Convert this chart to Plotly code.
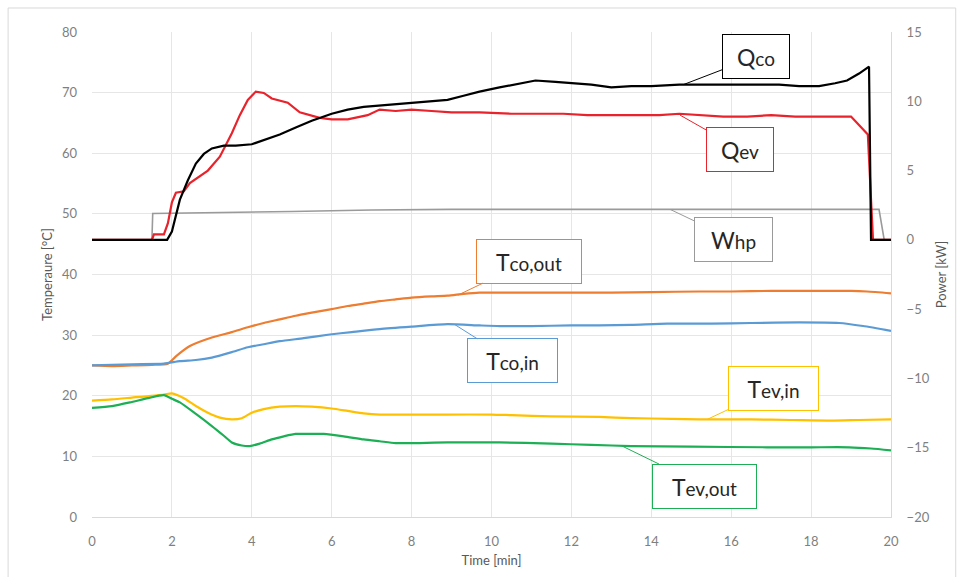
import plotly.graph_objects as go

# ---- measured series -------------------------------------------------------
# Condenser heat output Q_co [kW]
t_qco = [0, 1.88, 2.0, 2.2, 2.4, 2.6, 2.8, 3.0, 3.3, 3.6, 4.0, 4.3, 4.7, 5.1, 5.5,
         6.0, 6.4, 6.8, 7.2, 7.6, 8.0, 8.4, 8.9, 9.3, 9.7, 10.2, 10.7, 11.1, 11.6,
         12.0, 12.5, 13.0, 13.5, 14.0, 14.7, 15.2, 15.8, 16.4, 16.8, 17.2, 17.7,
         18.2, 18.6, 18.9, 19.2, 19.45, 19.5, 20]
q_co = [0, 0, 0.6, 2.9, 4.3, 5.5, 6.2, 6.6, 6.8, 6.8, 6.9, 7.2, 7.6, 8.1, 8.6,
        9.1, 9.4, 9.6, 9.7, 9.8, 9.9, 10.0, 10.1, 10.4, 10.7, 11.0, 11.3, 11.5, 11.4,
        11.3, 11.2, 11.0, 11.1, 11.1, 11.2, 11.2, 11.2, 11.2, 11.2, 11.2, 11.1,
        11.1, 11.3, 11.5, 12.0, 12.5, 0, 0]

# Evaporator heat input Q_ev [kW]
t_qev = [0, 1.5, 1.55, 1.8, 1.9, 2.0, 2.1, 2.3, 2.45, 2.7, 2.9, 3.2, 3.5, 3.7,
         3.9, 4.1, 4.3, 4.5, 4.9, 5.2, 5.7, 6.0, 6.4, 6.9, 7.2, 7.6, 8.0, 8.5,
         9.0, 9.7, 10.5, 11.2, 11.8, 12.4, 13.0, 13.6, 14.2, 14.7, 15.3, 15.8,
         16.4, 17.0, 17.6, 18.2, 18.7, 19.0, 19.42, 19.55, 20]
q_ev = [0, 0, 0.4, 0.4, 1.2, 2.7, 3.4, 3.5, 4.1, 4.6, 5.0, 6.0, 7.7, 9.0,
        10.1, 10.7, 10.6, 10.2, 9.9, 9.2, 8.8, 8.7, 8.7, 9.0, 9.4, 9.3, 9.4, 9.3,
        9.2, 9.2, 9.1, 9.1, 9.1, 9.0, 9.0, 9.0, 9.0, 9.1, 9.0, 8.9,
        8.9, 9.0, 8.9, 8.9, 8.9, 8.9, 7.6, 0, 0]

# Compressor electric power W_hp [kW]
t_whp = [0, 1.5, 1.52, 3, 5, 7, 9, 12, 15, 18, 19.7, 19.83, 20]
w_hp = [0, 0, 1.9, 1.95, 2.05, 2.15, 2.2, 2.2, 2.2, 2.25, 2.2, 0, 0]

# Condenser outlet temperature [°C]
t_tco_out = [0, 0.5, 1.0, 1.5, 1.9, 2.1, 2.45, 3.0, 3.5, 3.9, 4.3, 4.7, 5.1, 5.5,
             6.0, 6.4, 6.8, 7.2, 7.6, 8.0, 8.5, 8.9, 9.3, 9.7, 10.2, 11, 12, 13,
             14, 15.2, 16, 17, 18, 19, 19.4, 20]
tco_out = [25.0, 24.9, 25.0, 25.1, 25.3, 26.5, 28.2, 29.6, 30.5, 31.3, 32.0, 32.6,
           33.2, 33.7, 34.3, 34.8, 35.2, 35.6, 35.9, 36.2, 36.4, 36.5, 36.8, 37.0,
           37.0, 37.0, 37.0, 37.0, 37.1, 37.2, 37.2, 37.3, 37.3, 37.3, 37.2, 36.9]

# Condenser inlet temperature [°C]
t_tco_in = [0, 1.0, 1.8, 2.2, 2.6, 3.0, 3.5, 3.9, 4.3, 4.7, 5.3, 5.95, 6.5, 7.2,
            8.0, 8.9, 9.7, 10.2, 11, 12, 12.7, 13.5, 14.4, 15.5, 16.5, 17.7,
            18.7, 19.3, 20]
tco_in = [25.0, 25.2, 25.3, 25.7, 25.9, 26.3, 27.2, 28.0, 28.5, 29.0, 29.5, 30.1,
          30.5, 31.0, 31.4, 31.8, 31.6, 31.5, 31.5, 31.6, 31.6, 31.7, 31.9, 31.9,
          32.0, 32.1, 32.0, 31.5, 30.7]

# Evaporator inlet temperature [°C]
t_tev_in = [0, 0.5, 1.0, 1.8, 2.0, 2.3, 2.6, 2.9, 3.2, 3.5, 3.75, 4.0, 4.3, 4.7,
            5.1, 5.5, 6.0, 6.4, 6.8, 7.2, 8.0, 8.9, 10.0, 10.5, 11.5, 12.7, 13.5,
            14.5, 15.2, 16.5, 17.5, 18.5, 19.2, 20]
tev_in = [19.2, 19.4, 19.7, 20.2, 20.4, 19.6, 18.3, 17.2, 16.4, 16.1, 16.3, 17.2,
          17.8, 18.2, 18.3, 18.2, 17.9, 17.5, 17.1, 16.9, 16.9, 16.9, 16.9, 16.8,
          16.6, 16.5, 16.3, 16.2, 16.1, 16.1, 16.0, 15.9, 16.0, 16.1]

# Evaporator outlet temperature [°C]
t_tev_out = [0, 0.5, 0.95, 1.4, 1.8, 2.0, 2.2, 2.6, 3.0, 3.3, 3.5, 3.75, 3.95,
             4.2, 4.5, 4.8, 5.1, 5.5, 5.8, 6.3, 6.8, 7.2, 7.6, 8.2, 8.9, 10.2,
             11.5, 12.5, 13.5, 15.0, 16.9, 18.0, 18.95, 19.5, 20]
tev_out = [18.0, 18.3, 18.9, 19.6, 20.1, 19.5, 18.9, 17.0, 15.0, 13.4, 12.3, 11.8,
           11.7, 12.1, 12.8, 13.3, 13.7, 13.7, 13.7, 13.3, 12.8, 12.5, 12.2, 12.2,
           12.3, 12.3, 12.1, 11.9, 11.7, 11.6, 11.5, 11.5, 11.5, 11.3, 11.0]

x_ticks = [0, 2, 4, 6, 8, 10, 12, 14, 16, 18, 20]
temp_ticks = [0, 10, 20, 30, 40, 50, 60, 70, 80]
power_ticks = [-20, -15, -10, -5, 0, 5, 10, 15]

C_QCO, C_QEV, C_WHP = "#000000", "#E8232B", "#9A9A9A"
C_TCO_OUT, C_TCO_IN = "#ED7D31", "#5B9BD5"
C_TEV_IN, C_TEV_OUT = "#FFC000", "#1DAF55"

FONT = "Lato"

fig = go.Figure()

# temperatures on the left axis (smoothed lines)
for tx, ty, col in [(t_tco_out, tco_out, C_TCO_OUT), (t_tco_in, tco_in, C_TCO_IN),
                    (t_tev_in, tev_in, C_TEV_IN), (t_tev_out, tev_out, C_TEV_OUT)]:
    fig.add_trace(go.Scatter(x=tx, y=ty, mode="lines", yaxis="y",
                             line=dict(color=col, width=2.2, shape="spline",
                                       smoothing=0.6),
                             showlegend=False))

# powers on the right axis
for tx, ty, col, w in [(t_whp, w_hp, C_WHP, 1.6), (t_qev, q_ev, C_QEV, 2.2),
                       (t_qco, q_co, C_QCO, 2.2)]:
    fig.add_trace(go.Scatter(x=tx, y=ty, mode="lines", yaxis="y2",
                             line=dict(color=col, width=w), showlegend=False))


def callout(text, x, y, yref, ax, ay, col, w):
    head, tail = text[0], text[1:]
    return dict(
        x=x, y=y, xref="x", yref=yref, ax=ax, ay=ay,
        text=f"{head}<span style='font-size:19px'>{tail}</span>",
        showarrow=True, arrowhead=0, arrowwidth=1, arrowcolor=col, standoff=0,
        bordercolor=col, borderwidth=1, borderpad=0, bgcolor="white",
        width=w - 2, height=43, align="center", valign="middle",
        font=dict(family=FONT, size=23, color="#262626"),
    )


annotations = [
    callout("Qco", 14.8, 11.2, "y2", 73, -28, C_QCO, 68),
    callout("Qev", 14.72, 9.0, "y2", 60, 34, C_QEV, 68),
    callout("Whp", 14.47, 2.2, "y2", 63, 30, C_WHP, 79),
    callout("Tco,out", 9.16, 36.6, "y", 71, -34, C_TCO_OUT, 106),
    callout("Tco,in", 9.09, 31.7, "y", 57, 36, C_TCO_IN, 91),
    callout("Tev,in", 15.4, 16.1, "y", 66, -31, C_TEV_IN, 91),
    callout("Tev,out", 13.27, 11.7, "y", 82, 40, C_TEV_OUT, 105),
]

fig.update_layout(
    width=963, height=577,
    margin=dict(l=92, r=72, t=32, b=60, autoexpand=False),
    paper_bgcolor="white", plot_bgcolor="white",
    font=dict(family=FONT, size=13, color="#7F7F7F"),
    xaxis=dict(range=[0, 20], tickvals=x_ticks, showgrid=True, gridcolor="#E6E6E6",
               gridwidth=1, zeroline=False, showline=True, linecolor="#D9D9D9",
               ticks="", ticklabelstandoff=12,
               title=dict(text="Time [min]", standoff=8,
                          font=dict(size=13, color="#595959"))),
    yaxis=dict(range=[0, 80], tickvals=temp_ticks, showgrid=True, gridcolor="#E6E6E6",
               zeroline=False, showline=False, ticks="", ticklabelstandoff=14,
               title=dict(text="Temperaure [°C]", standoff=6,
                          font=dict(size=13, color="#595959"))),
    yaxis2=dict(range=[-20, 15], tickvals=power_ticks, overlaying="y", side="right",
                showgrid=False, zeroline=False, showline=True, linecolor="#D9D9D9",
                ticks="", ticklabelstandoff=12,
                title=dict(text="Power [kW]", standoff=8,
                           font=dict(size=13, color="#595959"))),
    annotations=annotations,
    shapes=[dict(type="rect", xref="paper", yref="paper",
                 x0=-0.105, x1=1.081, y0=-0.125, y1=1.0495,
                 line=dict(color="#D9D9D9", width=1), layer="below")],
)

fig.write_html("out.html")
